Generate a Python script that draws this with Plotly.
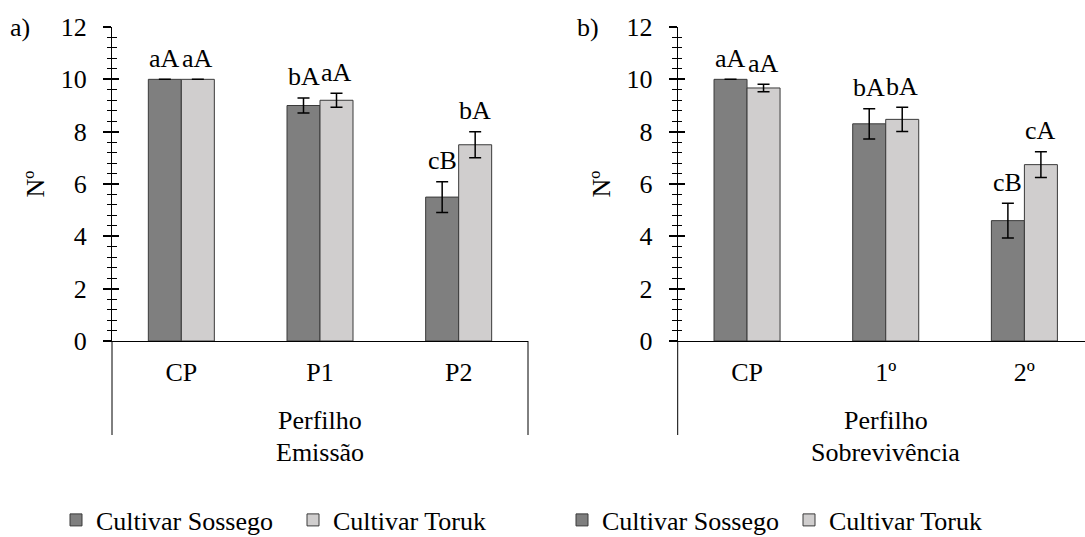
import plotly.graph_objects as go

# Tiller counts per cultivar (mean and standard error)
cat_a = ["CP", "P1", "P2"]
sossego_a = [10.0, 9.0, 5.5]
sossego_a_err = [0.0, 0.29, 0.59]
toruk_a = [10.0, 9.2, 7.5]
toruk_a_err = [0.0, 0.27, 0.5]
lab_sossego_a = ["aA", "bA", "cB"]
lab_toruk_a = ["aA", "aA", "bA"]

cat_b = ["CP", "1º", "2º"]
sossego_b = [10.0, 8.3, 4.6]
sossego_b_err = [0.0, 0.58, 0.66]
toruk_b = [9.67, 8.47, 6.74]
toruk_b_err = [0.14, 0.46, 0.49]
lab_sossego_b = ["aA", "bA", "cB"]
lab_toruk_b = ["aA", "bA", "cA"]

y_ticks = [0, 2, 4, 6, 8, 10, 12]
names = ["Cultivar Sossego", "Cultivar Toruk"]

FONT = "Liberation Serif"
FS = 26
C_SOS = "#7f7f7f"
C_TOR = "#d0cece"
EDGE = "#3a3a3a"

fig = go.Figure()


def add_panel(cats, s, se, t, te, xa, ya, legend):
    for name, vals, errs, col in ((names[0], s, se, C_SOS), (names[1], t, te, C_TOR)):
        fig.add_trace(go.Bar(
            x=cats, y=vals, name=name, xaxis=xa, yaxis=ya, legend=legend,
            marker=dict(color=col, line=dict(color=EDGE, width=1)),
            error_y=dict(type="data", array=errs, visible=True,
                         color="black", thickness=1.5, width=6),
            hoverinfo="skip",
        ))


add_panel(cat_a, sossego_a, sossego_a_err, toruk_a, toruk_a_err, "x", "y", "legend")
add_panel(cat_b, sossego_b, sossego_b_err, toruk_b, toruk_b_err, "x2", "y2", "legend2")

# invisible traces that carry the inward half of the crossing y ticks
fig.add_trace(go.Scatter(x=[cat_a[0]], y=[0], xaxis="x", yaxis="y3",
                         mode="markers", marker=dict(opacity=0),
                         showlegend=False, hoverinfo="skip"))
fig.add_trace(go.Scatter(x=[cat_b[0]], y=[0], xaxis="x2", yaxis="y4",
                         mode="markers", marker=dict(opacity=0),
                         showlegend=False, hoverinfo="skip"))

W, H = 1085, 537
ytop = 1 - 27 / H
ybot = 1 - 341 / H
dom_a = [112 / W, 528 / W]
dom_b = [677.7 / W, 1.0]

yax = dict(range=[0, 12], tickvals=y_ticks, showgrid=False, zeroline=False,
           showline=True, linecolor="black", linewidth=1,
           ticks="outside", ticklen=8, tickwidth=1.5, tickcolor="black",
           minor=dict(dtick=0.4, ticks="outside", ticklen=4.5, tickwidth=1,
                      tickcolor="black", showgrid=False),
           tickfont=dict(family=FONT, size=FS, color="black"),
           ticklabelstandoff=11, automargin=False,
           title=dict(text="Nº", font=dict(family=FONT, size=FS, color="black"),
                      standoff=8),
           domain=[ybot, ytop], fixedrange=True)
yin = dict(range=[0, 12], tickvals=y_ticks, showgrid=False, zeroline=False,
           showline=False, ticks="inside", ticklen=7, tickwidth=1.5,
           tickcolor="black", showticklabels=False, automargin=False,
           minor=dict(dtick=0.4, ticks="inside", ticklen=4.5, tickwidth=1,
                      tickcolor="black", showgrid=False),
           domain=[ybot, ytop])

xax = dict(type="category", showgrid=False, showline=True, linecolor="black",
           linewidth=1, ticks="", tickfont=dict(family=FONT, size=FS, color="black"),
           ticklabelstandoff=8, automargin=False, fixedrange=True)

fig.update_layout(
    width=W, height=H, margin=dict(l=0, r=0, t=0, b=0, autoexpand=False),
    paper_bgcolor="white", plot_bgcolor="white",
    barmode="group", bargap=0.524, bargroupgap=0,
    font=dict(family=FONT, size=FS, color="black"),
    xaxis=dict(xax, domain=dom_a, anchor="y", range=[-0.5, 2.5]),
    yaxis=dict(yax, anchor="x"),
    xaxis2=dict(xax, domain=dom_b, anchor="y2", range=[-0.5, 2.437]),
    yaxis2=dict(yax, anchor="x2"),
    yaxis3=dict(yin, anchor="x", overlaying="y"),
    yaxis4=dict(yin, anchor="x2", overlaying="y2"),
    legend=dict(orientation="h", x=56 / W, xanchor="left", y=1 - 520 / H,
                yanchor="middle", font=dict(family=FONT, size=FS),
                entrywidth=192, entrywidthmode="pixels",
                bgcolor="rgba(0,0,0,0)", traceorder="normal"),
    legend2=dict(orientation="h", x=562 / W, xanchor="left", y=1 - 520 / H,
                 yanchor="middle", font=dict(family=FONT, size=FS),
                 entrywidth=182, entrywidthmode="pixels",
                 bgcolor="rgba(0,0,0,0)", traceorder="normal"),
    showlegend=True,
)

ann = []
# significance letters above each bar (centred above the error bar)
for xref, yref, cats, groups in (
    ("x", "y", cat_a, ((sossego_a, sossego_a_err, lab_sossego_a, -16.5),
                       (toruk_a, toruk_a_err, lab_toruk_a, 16.5))),
    ("x2", "y2", cat_b, ((sossego_b, sossego_b_err, lab_sossego_b, -16.5),
                         (toruk_b, toruk_b_err, lab_toruk_b, 16.5))),
):
    for vals, errs, labs, dx in groups:
        for c, v, e, lab in zip(cats, vals, errs, labs):
            ann.append(dict(x=c, y=v + e, xref=xref, yref=yref, text=lab,
                            showarrow=False, xshift=dx, yshift=21,
                            yanchor="middle",
                            font=dict(family=FONT, size=FS, color="black")))

# group and axis captions below the category labels
for xref, cats, cap in (("x", cat_a, "Emissão"), ("x2", cat_b, "Sobrevivência")):
    ann.append(dict(x=cats[1], y=1 - 420 / H, xref=xref, yref="paper",
                    text="Perfilho", showarrow=False, yanchor="middle",
                    font=dict(family=FONT, size=FS, color="black")))
    ann.append(dict(x=cats[1], y=1 - 452 / H, xref=xref, yref="paper",
                    text=cap, showarrow=False, yanchor="middle",
                    font=dict(family=FONT, size=FS, color="black")))

ann.append(dict(x=8 / W, y=1 - 27 / H, xref="paper", yref="paper", text="a)",
                showarrow=False, xanchor="left", yanchor="middle",
                font=dict(family=FONT, size=FS, color="black")))
ann.append(dict(x=575 / W, y=1 - 27 / H, xref="paper", yref="paper", text="b)",
                showarrow=False, xanchor="left", yanchor="middle",
                font=dict(family=FONT, size=FS, color="black")))
fig.update_layout(annotations=ann)

# vertical divider lines framing the category labels
sep_bottom = (341 - 435) / (341 - 27)
line = dict(color="black", width=1)
fig.add_shape(type="line", xref="x domain", yref="y domain", x0=0, x1=0,
              y0=0, y1=sep_bottom, line=line)
fig.add_shape(type="line", xref="x domain", yref="y domain", x0=1, x1=1,
              y0=0, y1=sep_bottom, line=line)
fig.add_shape(type="line", xref="x2 domain", yref="y2 domain", x0=0, x1=0,
              y0=0, y1=sep_bottom, line=line)

fig.write_html("out.html")
